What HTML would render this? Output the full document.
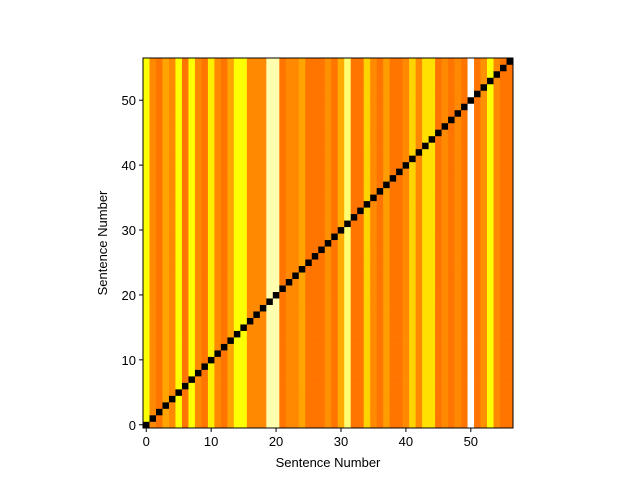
<!DOCTYPE html>
<html><head><meta charset="utf-8"><style>
body{margin:0;background:#fff;width:640px;height:480px;overflow:hidden;font-family:"Liberation Sans",sans-serif;}
svg text{font-family:"Liberation Sans",sans-serif;font-size:13px;fill:#000;}
</style></head><body>
<svg id="chart" width="640" height="480" xmlns="http://www.w3.org/2000/svg"></svg>
<script>
const columnValues=[0.75,0.57,0.54,0.61,0.57,0.75,0.54,0.75,0.57,0.54,0.72,0.57,0.54,0.61,0.75,0.75,0.57,0.57,0.57,0.92,0.92,0.54,0.57,0.57,0.61,0.54,0.54,0.54,0.58,0.54,0.62,0.86,0.54,0.54,0.68,0.57,0.54,0.6,0.54,0.54,0.57,0.68,0.57,0.7,0.7,0.54,0.57,0.54,0.57,0.54,1.0,0.54,0.58,0.75,0.57,0.54,0.54];
const tickValues=[0,10,20,30,40,50];
const N=columnValues.length;
const L=143,T=58,W=370,H=370;
const NS="http://www.w3.org/2000/svg";
const svg=document.getElementById('chart');
function sx(v){return L+(v+0.5)*W/N;}
function sy(v){return T+H-(v+0.5)*H/N;}
function hot(v){const r=Math.min(1,v/0.365),g=Math.max(0,Math.min(1,(v-0.365)/0.381)),b=Math.max(0,Math.min(1,(v-0.746)/0.254));return `rgb(${Math.round(r*255)},${Math.round(g*255)},${Math.round(b*255)})`;}
function mk(t,a){const e=document.createElementNS(NS,t);for(const k in a)e.setAttribute(k,a[k]);svg.appendChild(e);return e;}
const cw=W/N;
for(let i=0;i<N;i++){
  for(let j=0;j<N;j++){
    const v=(i===j)?0:columnValues[i];
    const r=mk('rect',{x:sx(i)-cw/2,y:sy(j)-cw/2,width:cw+0.3,height:cw+0.3,fill:hot(v)});
    
    
  }
}
const fr=mk('rect',{x:L,y:T,width:W,height:H,fill:'none',stroke:'#000','stroke-width':1});


tickValues.forEach(t=>{
  mk('line',{x1:sx(t),x2:sx(t),y1:T+H,y2:T+H+4,stroke:'#000'});
  const xt=mk('text',{x:sx(t),y:T+H+18,'text-anchor':'middle'});xt.textContent=t;
  
  
  mk('line',{x1:L-4,x2:L,y1:sy(t),y2:sy(t),stroke:'#000'});
  const yt=mk('text',{x:L-7,y:sy(t)+5,'text-anchor':'end'});yt.textContent=t;
  
  
});
const xl=mk('text',{x:L+W/2,y:467,'text-anchor':'middle'});xl.textContent='Sentence Number';


const yl=mk('text',{x:0,y:0,'text-anchor':'middle',transform:`translate(107,${T+H/2}) rotate(-90)`});yl.textContent='Sentence Number';


</script>
</body></html>
